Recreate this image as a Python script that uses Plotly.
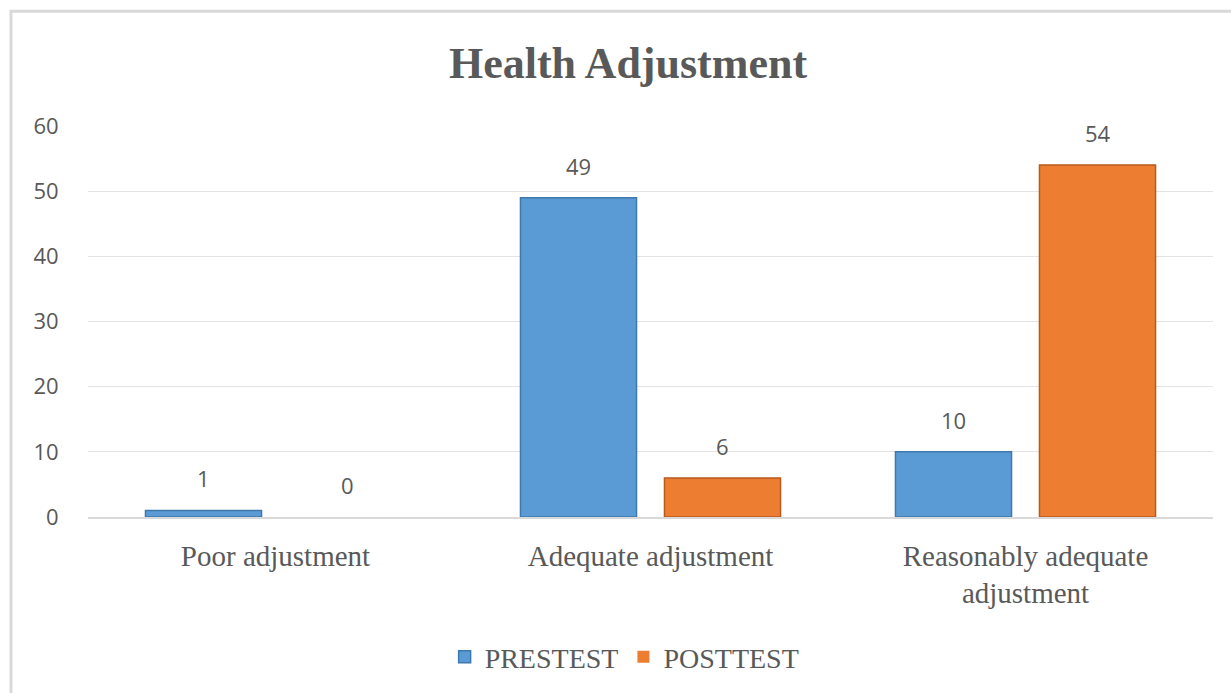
import plotly.graph_objects as go

categories = ["Poor adjustment", "Adequate adjustment", "Reasonably adequate<br>adjustment"]
prestest = [1, 49, 10]
posttest = [0, 6, 54]
series_names = ["PRESTEST", "POSTTEST"]
y_ticks = [0, 10, 20, 30, 40, 50, 60]

blue = "#5b9bd5"
orange = "#ed7d31"
text_grey = "#595959"
serif = "Liberation Serif, Times New Roman, serif"
sans = "Open Sans, Noto Sans, sans-serif"

fig = go.Figure()
fig.add_trace(go.Bar(
    x=categories, y=prestest, name=series_names[0],
    marker=dict(color=blue, line=dict(color="#3f78ad",
                                      width=[1.5 if v else 0 for v in prestest])),
))
fig.add_trace(go.Bar(
    x=categories, y=posttest, name=series_names[1],
    marker=dict(color=orange, line=dict(color="#b85a1c",
                                        width=[1.5 if v else 0 for v in posttest])),
))

# data labels
annotations = []
for vals, shift in ((prestest, -72), (posttest, 72)):
    for c, v in zip(categories, vals):
        annotations.append(dict(
            x=c, y=v, xref="x", yref="y", text=str(v), showarrow=False,
            xshift=shift, yshift=32, yanchor="middle",
            font=dict(family=sans, size=22, color=text_grey),
        ))

fig.update_layout(
    width=1231, height=693,
    margin=dict(l=88, r=18, t=126, b=175),
    paper_bgcolor="white", plot_bgcolor="white",
    title=dict(text="<b>Health Adjustment</b>", x=628 / 1231, xanchor="center",
               y=1 - 63 / 693, yanchor="middle", yref="container",
               font=dict(family=serif, size=44, color=text_grey)),
    barmode="group", bargap=0.232, bargroupgap=0.194,
    showlegend=True,
    legend=dict(orientation="h", x=0.477, xanchor="center", y=-0.355, yanchor="middle",
                font=dict(family=serif, size=28, color=text_grey),
                itemwidth=30, traceorder="normal", bgcolor="rgba(0,0,0,0)"),
    annotations=annotations,
    shapes=[dict(type="rect", xref="paper", yref="paper",
                 x0=(11 - 88) / 1125, x1=1.2, y0=-1.0, y1=(518 - 11) / 392,
                 line=dict(color="#d9d9d9", width=3), layer="below")],
)
fig.update_xaxes(
    showgrid=False, showline=True, linecolor="#d9d9d9", linewidth=1.5,
    tickfont=dict(family=serif, size=29, color=text_grey),
    ticks="outside", ticklen=12, tickcolor="rgba(0,0,0,0)",
)
fig.update_yaxes(
    range=[0, 60], tickvals=y_ticks, showgrid=True, gridcolor="#e3e3e3", gridwidth=1,
    zeroline=False, showline=False,
    tickfont=dict(family=sans, size=22, color=text_grey),
    ticks="outside", ticklen=24, tickcolor="rgba(0,0,0,0)",
)

fig.write_html("out.html", config={"displayModeBar": False},
               post_script="document.body.style.margin='0';")
